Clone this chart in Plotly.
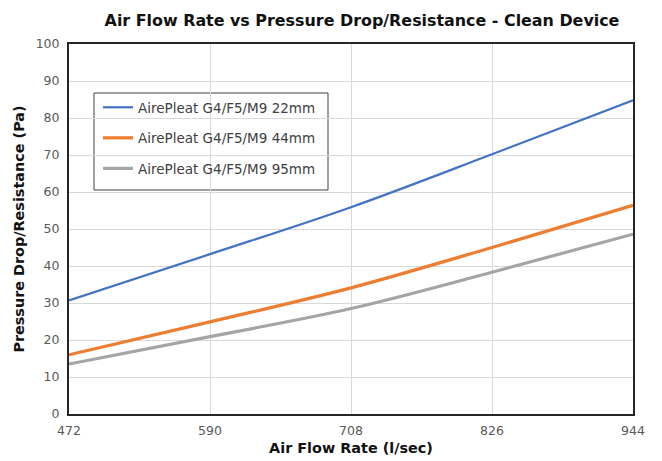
import plotly.graph_objects as go

flow = [472, 590, 708, 826, 944]
names = ["AirePleat G4/F5/M9 22mm", "AirePleat G4/F5/M9 44mm", "AirePleat G4/F5/M9 95mm"]
p22 = [30.7, 43.2, 55.9, 70.2, 84.8]
p44 = [16.0, 24.9, 34.1, 45.0, 56.4]
p95 = [13.5, 20.9, 28.5, 38.3, 48.6]
colors = ["#4472C4", "#ED7D31", "#A5A5A5"]
widths = [2.2, 3.2, 3.2]

# page body has an 8px margin, so the figure starts at (8, 8) of the window
OFF = 8
W, H = 662 - OFF, 461 - OFF
L, T = 69 - OFF, 44 - OFF
R, B = 29, 47
pw, ph = W - L - R, H - T - B

def px_x(sx):  # screen x -> paper x
    return (sx - OFF - L) / pw

def px_y(sy):  # screen y -> paper y
    return (H - B - (sy - OFF)) / ph

fig = go.Figure()
for i, (n, ys) in enumerate(zip(names, [p22, p44, p95])):
    fig.add_trace(go.Scatter(x=flow, y=ys, mode="lines", name=n, legendgroup=n,
                             line=dict(color=colors[i], width=widths[i], shape="spline", smoothing=1.0)))

FONT = "'DejaVu Sans', sans-serif"

# legend frame
fig.add_shape(type="rect", xref="paper", yref="paper",
              x0=px_x(94), x1=px_x(328), y0=px_y(190), y1=px_y(93),
              line=dict(color="#404040", width=1), fillcolor="white", layer="below")

fig.update_layout(
    width=W, height=H,
    margin=dict(l=L, r=R, t=T, b=B),
    paper_bgcolor="white", plot_bgcolor="rgba(0,0,0,0)",
    title=dict(text="<b>Air Flow Rate vs Pressure Drop/Resistance - Clean Device</b>",
               x=(362 - OFF) / W, xanchor="center", y=1 - (20 - OFF) / H, yanchor="middle",
               font=dict(family=FONT, size=15.9, color="#111111")),
    legend=dict(x=px_x(98), y=px_y(92), xanchor="left", yanchor="top",
                borderwidth=0, bgcolor="rgba(0,0,0,0)",
                font=dict(family=FONT, size=13.5, color="#404040"),
                tracegroupgap=10, traceorder="grouped"),
    showlegend=True,
)
fig.update_xaxes(range=[472, 944], tickvals=flow, ticktext=[str(v) for v in flow],
                 showgrid=True, gridcolor="#D9D9D9", gridwidth=1,
                 showline=True, linecolor="#262626", linewidth=2, mirror=True,
                 ticks="", zeroline=False, automargin=False, ticklabelstandoff=4,
                 tickfont=dict(family=FONT, size=12.5, color="#595959"),
                 title=dict(text="<b>Air Flow Rate (l/sec)</b>", standoff=6,
                            font=dict(family=FONT, size=14.4, color="#111111")))
fig.update_yaxes(range=[0, 100], dtick=10,
                 showgrid=True, gridcolor="#D9D9D9", gridwidth=1,
                 showline=True, linecolor="#262626", linewidth=2, mirror=True,
                 ticks="", zeroline=False, automargin=False, ticklabelstandoff=5,
                 tickfont=dict(family=FONT, size=12.5, color="#595959"),
                 title=dict(text="<b>Pressure Drop/Resistance (Pa)</b>", standoff=8,
                            font=dict(family=FONT, size=14.4, color="#111111")))

fig.write_html("out.html")
